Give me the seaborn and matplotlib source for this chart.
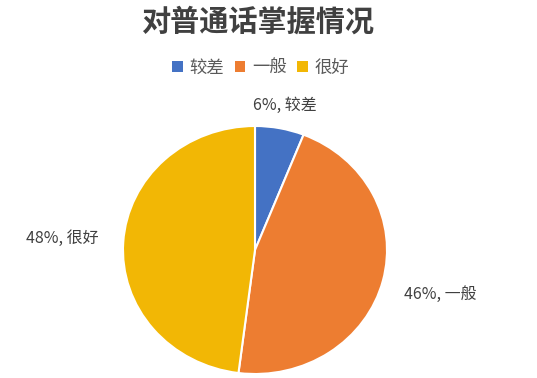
import numpy as np
import matplotlib
matplotlib.use("Agg")
import matplotlib.pyplot as plt
import seaborn as sns
from matplotlib.patches import Patch

categories = ["较差", "一般", "很好"]
values = [6, 46, 48]
colors = ["#4472C4", "#ED7D31", "#F2B705"]
title = "对普通话掌握情况"

sns.set_theme(style="white")
plt.rcParams['font.family'] = ['Noto Sans CJK SC', 'DejaVu Sans']

W, H = 537, 378
fig = plt.figure(figsize=(W / 100, H / 100), dpi=100)
fig.patch.set_facecolor("white")

cx, cy, rx, ry = 255, 250, 132, 124
ax = fig.add_axes([(cx - rx) / W, (H - cy - ry) / H, 2 * rx / W, 2 * ry / H])
wedges, _ = ax.pie(values, colors=colors, startangle=90, counterclock=False,
                   wedgeprops=dict(edgecolor="white", linewidth=1.5))
ax.set_aspect("auto")
ax.set_xlim(-1, 1)
ax.set_ylim(-1, 1)

dists = [1.19, 1.45, 1.46]
for w, cat, v, d in zip(wedges, categories, values, dists):
    mid = np.deg2rad((w.theta1 + w.theta2) / 2)
    ax.text(d * np.cos(mid), d * np.sin(mid), f"{v}%, {cat}", ha="center", va="center",
            fontsize=11.5, color="#404040", clip_on=False)

fig.text(258 / W, 1 - 22 / H, title, ha="center", va="center", fontsize=21,
         fontweight="bold", color="#404040")

handles = [Patch(facecolor=c, edgecolor="none") for c in colors]
fig.legend(handles, categories, loc="center", bbox_to_anchor=(261 / W, 1 - 68 / H),
           ncol=3, frameon=False, fontsize=12.5, handlelength=0.6, handleheight=0.6,
           handletextpad=0.4, columnspacing=0.6, labelcolor="#595959")

fig.savefig("out.png", dpi=100, facecolor="white")
